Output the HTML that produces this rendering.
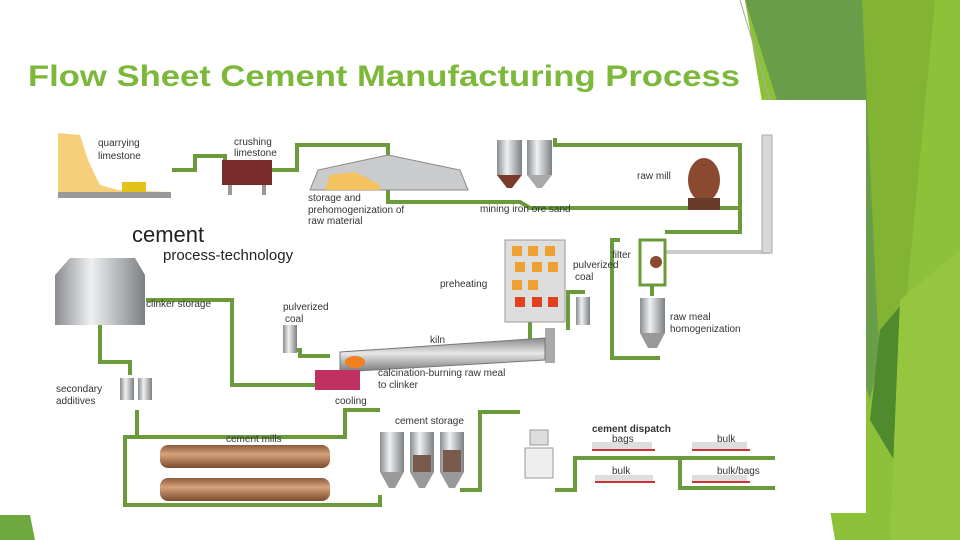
<!DOCTYPE html>
<html><head><meta charset="utf-8"><style>
html,body{margin:0;padding:0;background:#fff}
svg{display:block}
text{font-family:"Liberation Sans",sans-serif}
</style></head><body>
<svg width="960" height="540" viewBox="0 0 960 540" xmlns="http://www.w3.org/2000/svg">
<defs>
<linearGradient id="silo" x1="0" x2="1"><stop offset="0" stop-color="#8a8d90"/><stop offset="0.4" stop-color="#eef0f1"/><stop offset="1" stop-color="#7d8083"/></linearGradient>
<linearGradient id="pipe" x1="0" y1="0" x2="0" y2="1"><stop offset="0" stop-color="#8a5a3a"/><stop offset="0.4" stop-color="#d7a27c"/><stop offset="1" stop-color="#7a4a2c"/></linearGradient>
<linearGradient id="kiln" x1="0" y1="0" x2="0" y2="1"><stop offset="0" stop-color="#888"/><stop offset="0.45" stop-color="#e8e8e8"/><stop offset="1" stop-color="#777"/></linearGradient>
</defs>
<rect width="960" height="540" fill="#fff"/>
<!-- right decoration -->
<polygon points="745,0 960,0 960,540 835,540" fill="#8dc13a"/>
<polygon points="745,0 862,0 885,330 870,400 780,110" fill="#6a9d4a"/>
<polygon points="862,0 935,0 895,420 878,330" fill="#82b333"/>
<polygon points="880,330 905,300 900,470 870,420" fill="#4f8a2c"/>
<polygon points="900,300 960,250 960,540 890,540" fill="#96c640"/>
<line x1="740" y1="0" x2="770" y2="100" stroke="#aaa" stroke-width="1"/>
<polygon points="0,515 30,515 35,540 0,540" fill="#6ea83e"/>
<!-- panel -->
<rect x="22" y="100" width="844" height="413" fill="#fff"/>
<!-- title -->
<text x="28" y="86" font-size="30" font-weight="bold" fill="#7cb83a" textLength="712" lengthAdjust="spacingAndGlyphs">Flow Sheet Cement Manufacturing Process</text>

<g fill="none" stroke="#6b9a3b" stroke-width="4">
<polyline points="172,170 195,170 195,156 225,156 225,165"/>
<polyline points="272,170 297,170 297,145 388,145 388,155"/>
<polyline points="388,190 388,202 520,202 530,208 740,208 740,145 555,145 555,138"/>
<polyline points="740,208 740,232 665,232"/>
<polyline points="652,285 652,296"/>
<polyline points="620,240 612,240 612,358 660,358"/>
<polyline points="146,300 232,300 232,385 315,385"/>
<polyline points="100,325 100,362 130,362 130,375"/>
<polyline points="137,410 137,437 125,437 125,505 380,505 380,495"/>
<polyline points="137,437 345,437 345,410 380,410"/>
<polyline points="460,490 480,490 480,412 520,412"/>
<polyline points="555,490 575,490 575,458 680,458 680,488 775,488"/>
<polyline points="575,460 575,490"/>
<polyline points="680,458 775,458"/>
<polyline points="568,330 568,292 585,292"/>
<polyline points="290,350 300,350 300,356 330,356"/>
<polyline points="530,320 530,355"/>
</g>
<line x1="665" y1="252" x2="770" y2="252" stroke="#ccc" stroke-width="4"/>
<rect x="762" y="135" width="10" height="118" fill="#d8d8d8" stroke="#aaa"/>
<!-- quarry -->
<path d="M58,133 L80,135 L88,160 L95,175 L100,185 L118,190 L170,192 L58,192 Z" fill="#f6cf7a"/>
<rect x="58" y="192" width="113" height="6" fill="#9a9a9a"/>
<rect x="122" y="182" width="24" height="10" fill="#e2c218"/>
<!-- crusher -->
<rect x="222" y="160" width="50" height="25" fill="#7a2a2a"/>
<rect x="228" y="185" width="4" height="10" fill="#999"/><rect x="262" y="185" width="4" height="10" fill="#999"/>
<!-- dome -->
<path d="M310,190 L318,170 L388,155 L460,170 L468,190 Z" fill="#c9cbcd" stroke="#888"/>
<path d="M325,190 L330,175 L355,172 L380,185 L380,190 Z" fill="#f4c25e"/>
<!-- raw material silos -->
<rect x="497" y="140" width="25" height="35" fill="url(#silo)"/><polygon points="497,175 522,175 512,188 507,188" fill="#7a3a2a"/>
<rect x="527" y="140" width="25" height="35" fill="url(#silo)"/><polygon points="527,175 552,175 542,188 537,188" fill="#aaa"/>
<!-- raw mill -->
<ellipse cx="704" cy="180" rx="16" ry="22" fill="#8a4a30"/>
<rect x="688" y="198" width="32" height="12" fill="#6a3a2a"/>
<!-- filter -->
<rect x="640" y="240" width="25" height="45" fill="#fff" stroke="#6b9a3b" stroke-width="3"/>
<circle cx="656" cy="262" r="6" fill="#8a4a30"/>
<!-- raw meal silo -->
<rect x="640" y="298" width="25" height="35" fill="url(#silo)"/><polygon points="640,333 665,333 657,348 648,348" fill="#999"/>
<!-- preheater -->
<rect x="505" y="240" width="60" height="82" fill="#ddd" stroke="#999"/>
<g fill="#f0a030"><rect x="512" y="246" width="10" height="10"/><rect x="528" y="246" width="10" height="10"/><rect x="545" y="246" width="10" height="10"/>
<rect x="515" y="262" width="10" height="10"/><rect x="532" y="262" width="10" height="10"/><rect x="548" y="262" width="10" height="10"/>
<rect x="512" y="280" width="10" height="10"/><rect x="528" y="280" width="10" height="10"/></g>
<g fill="#e04020"><rect x="515" y="297" width="10" height="10"/><rect x="532" y="297" width="10" height="10"/><rect x="548" y="297" width="10" height="10"/></g>
<rect x="545" y="328" width="10" height="35" fill="#aaa"/>
<!-- kiln -->
<polygon points="340,352 545,338 545,360 340,372" fill="url(#kiln)" stroke="#777"/>
<ellipse cx="355" cy="362" rx="10" ry="6" fill="#f08020"/>
<rect x="283" y="325" width="14" height="28" fill="url(#silo)"/>
<rect x="576" y="297" width="14" height="28" fill="url(#silo)"/>
<!-- cooling -->
<rect x="315" y="370" width="45" height="20" fill="#c03060"/>
<!-- clinker silo -->
<path d="M55,275 L70,258 L135,258 L145,275 L145,325 L55,325 Z" fill="url(#silo)"/>
<!-- additives -->
<rect x="120" y="378" width="14" height="22" fill="url(#silo)"/><rect x="138" y="378" width="14" height="22" fill="url(#silo)"/>
<!-- mills -->
<rect x="160" y="445" width="170" height="23" rx="8" fill="url(#pipe)"/>
<rect x="160" y="478" width="170" height="23" rx="8" fill="url(#pipe)"/>
<!-- cement storage -->
<rect x="380" y="432" width="24" height="40" fill="url(#silo)"/><polygon points="380,472 404,472 395,488 389,488" fill="#999"/>
<rect x="410" y="432" width="24" height="40" fill="url(#silo)"/><polygon points="410,472 434,472 425,488 419,488" fill="#999"/>
<rect x="440" y="432" width="24" height="40" fill="url(#silo)"/><polygon points="440,472 464,472 455,488 449,488" fill="#999"/>
<rect x="413" y="455" width="18" height="17" fill="#7a5a4a"/><rect x="443" y="450" width="18" height="22" fill="#7a5a4a"/>
<!-- loading -->
<rect x="525" y="448" width="28" height="30" fill="#eee" stroke="#999"/>
<rect x="530" y="430" width="18" height="15" fill="#ddd" stroke="#999"/>
<g stroke="#c33" stroke-width="2"><line x1="592" y1="450" x2="655" y2="450"/><line x1="692" y1="450" x2="750" y2="450"/><line x1="595" y1="482" x2="655" y2="482"/><line x1="692" y1="482" x2="750" y2="482"/></g>
<g fill="#ddd"><rect x="592" y="442" width="60" height="7"/><rect x="692" y="442" width="55" height="7"/><rect x="595" y="475" width="58" height="6"/><rect x="692" y="475" width="55" height="6"/></g>

<g font-size="10" fill="#333">
<text x="98" y="146">quarrying</text><text x="98" y="159">limestone</text>
<text x="234" y="145">crushing</text><text x="234" y="156">limestone</text>
<text x="308" y="201">storage and</text><text x="308" y="213">prehomogenization of</text><text x="308" y="224">raw material</text>
<text x="480" y="212">mining iron ore sand</text>
<text x="637" y="179">raw mill</text>
<text x="612" y="258">filter</text>
<text x="573" y="268">pulverized</text><text x="575" y="280">coal</text>
<text x="440" y="287">preheating</text>
<text x="670" y="320">raw meal</text><text x="670" y="332">homogenization</text>
<text x="146" y="307">clinker storage</text>
<text x="283" y="310">pulverized</text><text x="285" y="322">coal</text>
<text x="430" y="343">kiln</text>
<text x="378" y="376">calcination-burning raw meal</text><text x="378" y="388">to clinker</text>
<text x="335" y="404">cooling</text>
<text x="56" y="392">secondary</text><text x="56" y="404">additives</text>
<text x="226" y="442">cement mills</text>
<text x="395" y="424">cement storage</text>
<text x="592" y="432" font-weight="bold">cement dispatch</text>
<text x="612" y="442">bags</text><text x="717" y="442">bulk</text>
<text x="612" y="474">bulk</text><text x="717" y="474">bulk/bags</text>
</g>
<text x="132" y="242" font-size="22" fill="#222">cement</text>
<text x="163" y="260" font-size="15" fill="#222">process-technology</text>
</svg>
</body></html>
